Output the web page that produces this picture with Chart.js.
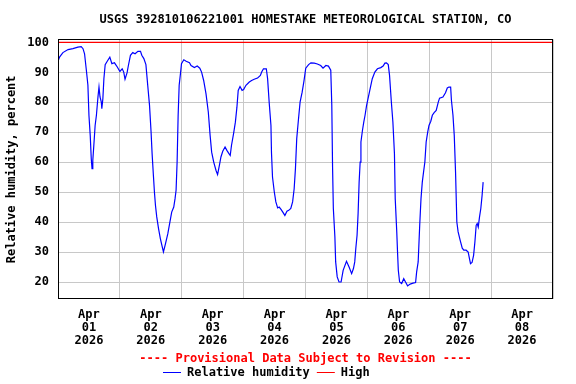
<!DOCTYPE html>
<html>
<head>
<meta charset="utf-8">
<script src="https://cdn.jsdelivr.net/npm/chart.js@4.4.1/dist/chart.umd.min.js"></script>
<style>
  html, body { margin: 0; padding: 0; background: #fff; }
  #c { display: block; }
</style>
</head>
<body>
<canvas id="c" width="576" height="384"></canvas>
<script>
// ---- data (hours since Apr 01 2026 00:00) ----
const hours = [
  0, 0.6, 1.9, 3.9, 5.8, 7.7, 9.0, 9.7, 10.3, 11.0, 11.6, 12.0, 12.5, 12.9, 13.2, 13.5, 13.9, 14.4, 14.9, 15.5,
  15.9, 16.3, 16.8, 17.0, 17.4, 17.8, 18.3, 19.1, 20.1, 20.9, 21.9, 23.0, 24.0, 24.9, 25.5, 26.0, 26.8, 27.3, 28.1, 29.0,
  29.9, 31.0, 32.0, 32.5, 33.3, 34.1, 34.8, 35.5, 36.1, 36.5, 37.0, 37.4, 37.8, 38.3, 39.0, 39.7, 40.3, 40.9, 41.7, 42.6,
  43.4, 44.1, 44.9, 45.4, 45.8, 46.2, 46.6, 47.0, 47.5, 47.9, 48.8, 49.7, 51.0, 51.6, 52.9, 54.0, 55.0, 55.7, 56.5, 57.4,
  58.3, 59.0, 59.6, 60.4, 61.3, 61.9, 62.6, 63.2, 63.9, 64.8, 65.5, 66.3, 66.8, 67.3, 68.1, 68.8, 69.4, 69.9, 70.6, 71.4,
  72.0, 72.9, 74.2, 75.1, 76.1, 77.4, 78.5, 79.0, 79.7, 80.8, 81.3, 81.9, 82.6, 82.8, 83.2, 83.9, 84.5, 85.2, 85.8, 86.5,
  87.2, 88.0, 88.8, 89.5, 90.3, 91.0, 91.6, 92.1, 92.6, 93.3, 93.9, 94.7, 95.4, 96.1, 97.2, 98.1, 99.4, 100.6, 101.9, 102.8,
  103.9, 104.9, 105.8, 106.2, 106.5, 106.8, 107.4, 107.7, 108.3, 109.0, 109.8, 110.6, 111.9, 112.9, 113.9, 114.6, 115.1, 115.5, 116.0, 116.4,
  116.8, 117.2, 117.5, 118.1, 118.6, 119.1, 119.7, 120.4, 121.2, 121.9, 122.9, 123.9, 125.2, 126.1, 126.8, 127.4, 128.1, 128.6, 129.3, 129.9,
  130.5, 130.8, 131.4, 131.7, 132.0, 132.5, 133.3, 134.1, 134.8, 135.6, 136.6, 137.7, 138.7, 139.1, 139.7, 140.3, 140.8, 141.3, 141.8, 142.3,
  142.8, 143.4, 143.9, 144.6, 145.2, 145.9, 146.7, 147.5, 148.0, 149.3, 150.3, 151.0, 151.6, 152.3, 152.6, 153.2, 153.7, 154.2, 154.7, 155.2,
  156.0, 156.8, 157.4, 158.3, 159.1, 159.6, 160.0, 160.6, 161.2, 161.7, 162.2, 162.6, 163.0, 163.5, 164.0, 164.5, 164.9
];
const humidity = [
  93.7, 95.1, 96.6, 97.6, 97.9, 98.4, 98.6, 97.9, 96.2, 90.7, 85.7, 75.7, 69.0, 61.2, 57.9, 60.7, 65.7, 72.3, 75.7, 81.8,
  85.1, 81.8, 80.1, 77.9, 81.2, 87.9, 92.6, 93.7, 95.1, 92.9, 93.2, 91.8, 90.3, 91.2, 90.1, 87.7, 89.9, 92.3, 95.7, 96.6,
  96.2, 97.0, 97.0, 95.7, 94.6, 92.6, 85.7, 79.0, 70.1, 62.9, 55.7, 50.1, 45.7, 41.8, 37.9, 34.6, 32.3, 30.1, 32.9, 36.2,
  40.1, 43.4, 45.1, 47.9, 50.7, 60.1, 75.7, 85.7, 89.6, 92.9, 94.2, 93.7, 93.2, 92.3, 91.6, 92.1, 91.4, 90.1, 87.3, 82.9,
  76.8, 69.0, 63.4, 60.1, 57.3, 55.9, 59.0, 61.8, 63.7, 65.1, 64.0, 62.9, 62.3, 65.7, 69.6, 73.4, 78.4, 84.0, 85.3, 84.0,
  84.3, 85.7, 86.8, 87.3, 87.7, 88.1, 89.0, 90.1, 91.2, 91.2, 87.9, 80.1, 72.3, 63.4, 55.1, 50.1, 46.8, 44.8, 45.1, 44.3,
  43.4, 42.3, 43.7, 44.0, 44.6, 46.8, 51.2, 57.9, 67.9, 74.6, 80.1, 83.4, 87.1, 91.4, 92.6, 93.2, 93.1, 92.8, 92.3, 91.4,
  92.3, 92.1, 90.7, 79.0, 58.4, 44.6, 35.1, 26.8, 21.8, 20.1, 20.1, 24.0, 27.0, 25.1, 22.9, 24.6, 26.8, 31.2, 35.7, 42.9,
  53.4, 60.1, 66.8, 70.7, 73.4, 75.7, 79.0, 81.8, 85.1, 87.9, 90.1, 91.2, 91.6, 92.1, 93.1, 93.2, 92.6, 89.0, 80.1, 73.4,
  62.9, 47.9, 36.8, 30.1, 24.0, 20.1, 19.6, 21.2, 20.1, 18.8, 19.4, 19.7, 19.9, 23.4, 26.8, 39.0, 47.9, 53.4, 56.8, 60.1,
  66.8, 70.1, 72.3, 73.7, 75.7, 76.6, 77.3, 80.1, 81.4, 81.8, 83.2, 84.8, 85.1, 85.1, 80.7, 75.7, 69.0, 56.8, 40.1, 36.8,
  34.0, 31.4, 30.7, 30.7, 30.1, 27.9, 26.2, 26.6, 29.0, 33.4, 39.0, 39.6, 38.4, 41.8, 44.6, 49.0, 53.4
];
const highHours = [0, 192];
const highValues = [100, 100];
const monthLabel = 'Apr';
const yearLabel = '2026';
const dayLabels = ['01', '02', '03', '04', '05', '06', '07', '08'];
const yTickValues = [20, 30, 40, 50, 60, 70, 80, 90, 100];
const seriesNames = ['Relative humidity', 'High'];
const chartTitle = 'USGS 392810106221001 HOMESTAKE METEOROLOGICAL STATION, CO';
const noteText = '---- Provisional Data Subject to Revision ----';
const yAxisTitle = 'Relative humidity, percent';

// ---- chart ----
const FONT = 'DejaVu Sans Mono';
const GRID = '#c8c8c8';

const rhPoints = hours.map((h, i) => ({ x: h, y: humidity[i] }));
const highPoints = highHours.map((h, i) => ({ x: h, y: highValues[i] }));

const frameAndLegend = {
  id: 'frameAndLegend',
  afterDatasetsDraw(chart) {
    const { ctx, chartArea: a } = chart;
    ctx.save();
    ctx.strokeStyle = '#000';
    ctx.lineWidth = 1;
    ctx.strokeRect(Math.round(a.left) + 0.5, Math.round(a.top) + 0.5,
                   Math.round(a.right - a.left) - 1, Math.round(a.bottom - a.top) - 1);
    ctx.restore();
  },
  afterDraw(chart) {
    const ctx = chart.ctx;
    ctx.save();
    ctx.font = 'bold 12px "' + FONT + '"';
    ctx.textBaseline = 'middle';
    ctx.textAlign = 'left';
    let x = 163;
    const y = 372;
    chart.data.datasets.forEach(ds => {
      ctx.strokeStyle = ds.borderColor;
      ctx.lineWidth = 1;
      ctx.beginPath();
      ctx.moveTo(x, y + 0.5);
      ctx.lineTo(x + 18, y + 0.5);
      ctx.stroke();
      ctx.fillStyle = '#000';
      ctx.fillText(ds.label, x + 24, y + 1);
      x += 24 + ctx.measureText(ds.label).width + 7;
    });
    ctx.restore();
  }
};

new Chart(document.getElementById('c'), {
  type: 'line',
  data: {
    datasets: [
      { label: seriesNames[0], data: rhPoints, borderColor: '#0000ff', borderWidth: 1.2,
        pointRadius: 0, tension: 0, fill: false },
      { label: seriesNames[1], data: highPoints, borderColor: '#ff0000', borderWidth: 1.2,
        pointRadius: 0, tension: 0, fill: false }
    ]
  },
  options: {
    responsive: false,
    animation: false,
    devicePixelRatio: 1,
    layout: { padding: { left: 0, right: 23, top: 0, bottom: 17.8 } },
    plugins: {
      legend: { display: false },
      tooltip: { enabled: false },
      title: {
        display: true, text: chartTitle, color: '#000', fullSize: false,
        font: { family: FONT, size: 12, weight: 'bold' },
        padding: { top: 13, bottom: 12 }
      },
      subtitle: {
        display: true, text: noteText, color: '#ff0000', position: 'bottom', fullSize: false,
        font: { family: FONT, size: 12, weight: 'bold' },
        padding: { top: 5.5, bottom: 0 }
      }
    },
    scales: {
      x: {
        type: 'linear', min: 0, max: 192,
        border: { display: false },
        grid: {
          drawTicks: false, tickLength: 0,
          color: ctx => (ctx.tick && ctx.tick.value % 24 === 0) ? GRID : 'rgba(0,0,0,0)'
        },
        ticks: {
          stepSize: 12, autoSkip: false, maxRotation: 0, minRotation: 0, padding: 9,
          color: '#000',
          font: { family: FONT, size: 12, weight: 'bold', lineHeight: '13px' },
          callback: v => (v % 24 === 12) ? [monthLabel, dayLabels[(v - 12) / 24], yearLabel] : ''
        },
        afterFit: s => { s.height = 47; }
      },
      y: {
        type: 'linear', min: 14.33, max: 101,
        border: { display: false },
        grid: { drawTicks: false, tickLength: 0, color: GRID },
        afterBuildTicks: s => { s.ticks = yTickValues.map(v => ({ value: v })); },
        ticks: {
          padding: 9, color: '#000',
          font: { family: FONT, size: 12, weight: 'bold' }
        },
        title: {
          display: true, text: yAxisTitle, color: '#000',
          font: { family: FONT, size: 12, weight: 'bold' },
          padding: { top: 5, bottom: 0 }
        },
        afterFit: s => { s.width = 58; }
      }
    }
  },
  plugins: [frameAndLegend]
});
</script>
</body>
</html>
